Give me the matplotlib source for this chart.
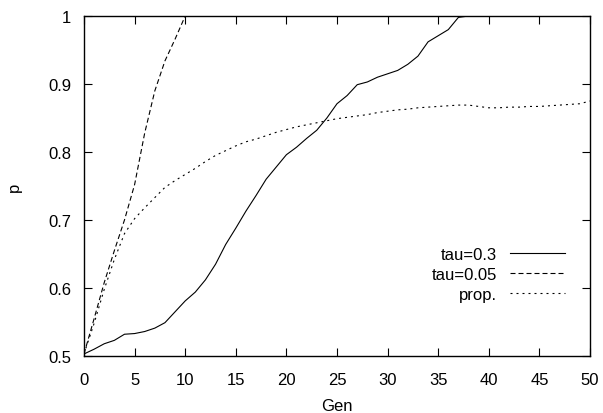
import matplotlib
matplotlib.use("Agg")
import matplotlib.pyplot as plt
from matplotlib.ticker import FormatStrFormatter
import numpy as np

plt.rcParams['font.family'] = ['Liberation Sans', 'DejaVu Sans']
plt.rcParams['font.size'] = 12

# p per generation
tau03 = [0.503, 0.510, 0.518, 0.523, 0.532, 0.533, 0.536, 0.541, 0.549, 0.565,
         0.581, 0.594, 0.612, 0.635, 0.664, 0.688, 0.713, 0.736, 0.760, 0.778,
         0.796, 0.807, 0.820, 0.832, 0.850, 0.871, 0.883, 0.899, 0.903, 0.910,
         0.915, 0.920, 0.929, 0.941, 0.962, 0.971, 0.980, 0.998] + [1.0] * 13
tau005 = [0.503, 0.555, 0.608, 0.655, 0.700, 0.752, 0.828, 0.890, 0.934, 0.966, 1.0]
prop = [0.503, 0.548, 0.598, 0.642, 0.680, 0.702, 0.718, 0.733, 0.748, 0.758,
        0.767, 0.776, 0.786, 0.795, 0.802, 0.809, 0.815, 0.819, 0.824, 0.829,
        0.833, 0.837, 0.840, 0.843, 0.846, 0.849, 0.851, 0.853, 0.855, 0.858,
        0.860, 0.862, 0.863, 0.865, 0.866, 0.867, 0.868, 0.869, 0.869, 0.867,
        0.865, 0.865, 0.866, 0.866, 0.867, 0.867, 0.868, 0.869, 0.870, 0.871, 0.875]

fig = plt.figure(figsize=(6.03, 4.14), dpi=100)
ax = fig.add_subplot(111)
fig.subplots_adjust(left=0.1393, right=0.9784, top=0.9589, bottom=0.1377)

lw = 0.8
ax.plot(np.arange(len(tau03)), tau03, color='black', lw=lw, label='tau=0.3')
ax.plot(np.arange(len(tau005)), tau005, color='black', lw=lw, dashes=(4.5, 2.7), label='tau=0.05')
ax.plot(np.arange(len(prop)), prop, color='black', lw=lw, dashes=(1.8, 3.6), label='prop.')

ax.set_xlim(0, 50)
ax.set_ylim(0.5, 1)
ax.set_xticks(np.arange(0, 51, 5))
ax.set_yticks(np.arange(0.5, 1.01, 0.1))
ax.yaxis.set_major_formatter(FormatStrFormatter('%g'))
ax.tick_params(direction='in', length=5.8, width=0.8, top=True, right=True)
ax.tick_params(axis='x', pad=11.5)
ax.tick_params(axis='y', pad=9)
for s in ax.spines.values():
    s.set_linewidth(1.0)

ax.set_xlabel('Gen', labelpad=8)
ax.set_ylabel('p', labelpad=19)

ax.legend(loc='center right', bbox_to_anchor=(0.9506, 0.240), frameon=False,
          markerfirst=False, borderpad=0, borderaxespad=0, handlelength=3.3,
          handletextpad=0.8, labelspacing=0.28)

fig.savefig('out.png', dpi=100)
